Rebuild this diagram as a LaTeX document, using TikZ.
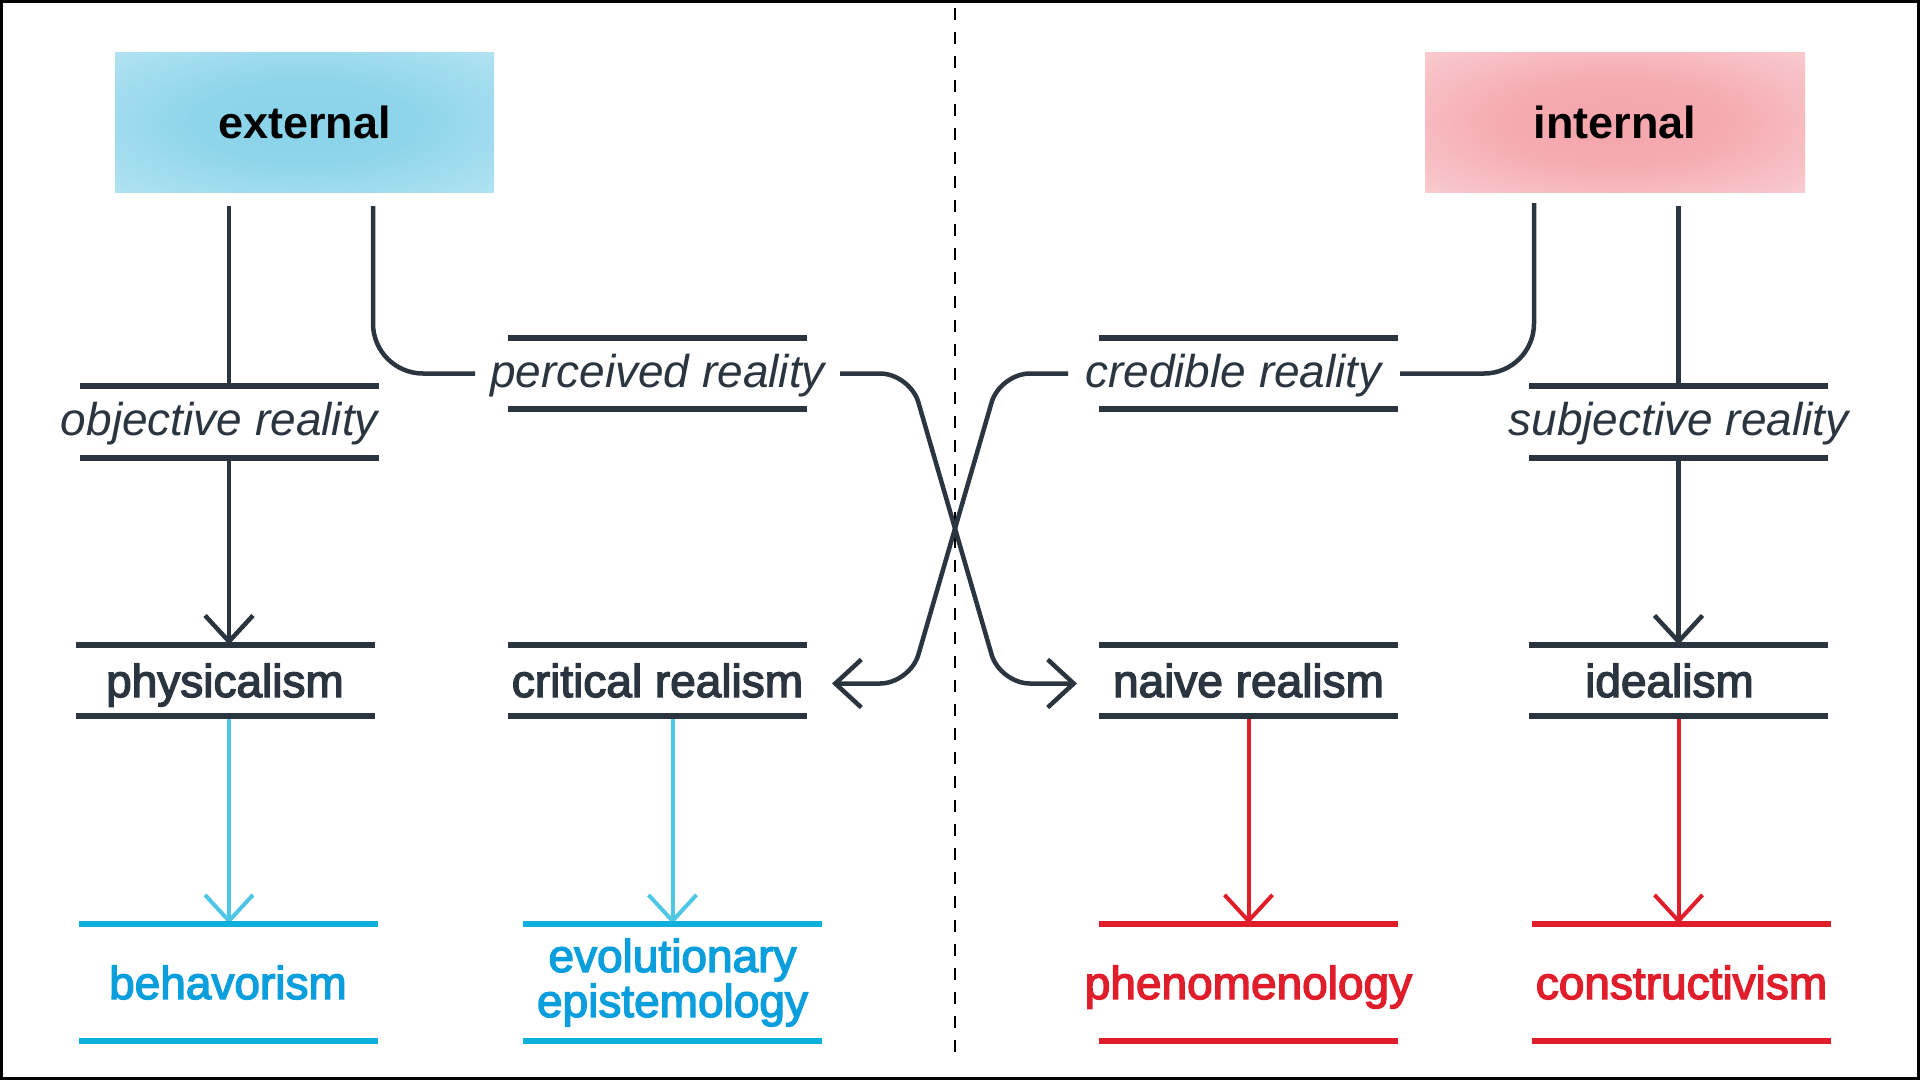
\documentclass[tikz,border=0pt]{standalone}
\usepackage{fontspec}
\setmainfont{Liberation Sans}
\newfontfamily\medfont[FakeBold=3]{Liberation Sans}
\usetikzlibrary{arrows.meta}
\definecolor{ink}{HTML}{2A3540}
\definecolor{bluebar}{HTML}{0DB0DC}
\definecolor{bluetxt}{HTML}{0A9FDC}
\definecolor{blueln}{HTML}{4FC6E4}
\definecolor{redc}{HTML}{E01E2B}
\pgfdeclareradialshading{extshade}{\pgfpoint{0bp}{0bp}}{color(0bp)=(rgb,255:red,137;green,211;blue,233); color(15bp)=(rgb,255:red,143;green,213;blue,234); color(35bp)=(rgb,255:red,176;green,226;blue,241); color(50bp)=(rgb,255:red,211;green,240;blue,248)}
\pgfdeclareradialshading{intshade}{\pgfpoint{0bp}{0bp}}{color(0bp)=(rgb,255:red,244;green,165;blue,172); color(15bp)=(rgb,255:red,245;green,171;blue,177); color(35bp)=(rgb,255:red,248;green,202;blue,206); color(50bp)=(rgb,255:red,251;green,226;blue,228)}
\newcommand\drawbars[2]{\draw[line width=6pt,#2] ([xshift=-149.5pt]#1.north) -- ([xshift=149.5pt]#1.north) ([xshift=-149.5pt]#1.south) -- ([xshift=149.5pt]#1.south);}
\begin{document}
\begin{tikzpicture}[x=1pt,y=-1pt,
  cbase/.style={rectangle, inner sep=0pt, minimum width=299pt, minimum height=71pt, text=ink, font=\medfont\fontsize{46}{45}\selectfont},
  concept/.style={cbase, text height=33pt, text depth=0pt},
  italconcept/.style={cbase, text height=27pt, text depth=0pt, font=\itshape\fontsize{46}{45}\selectfont},
  leaf/.style={concept, minimum height=117pt},
  leaftwo/.style={cbase, minimum height=117pt, align=center},
  header/.style={rectangle, inner sep=0pt, minimum height=140pt, text height=32pt, text depth=0pt, font=\bfseries\fontsize{45}{45}\selectfont, text=black},
  conn/.style={draw=ink, line width=4.5pt},
  blueline/.style={draw=blueln, line width=4pt},
  redline/.style={draw=redc, line width=4pt},
  arrowhd/.style={-{Straight Barb[length=26pt,width=48pt]}}
]
\useasboundingbox (0,0) rectangle (1920,1080);
\draw[line width=3pt] (1.5,1.5) rectangle (1918.5,1078.5);
\draw[line width=2.5pt, dash pattern=on 12pt off 12pt] (955,8) -- (955,1052);

% headers
\node[header, minimum width=379pt, shading=extshade] (ext) at (304.5,122) {external};
\node[header, minimum width=380pt, shading=intshade] (int) at (1615,122) {internal};

% concepts
\node[italconcept] (obj) at (229,422) {objective reality\hspace*{19pt}};
\node[italconcept] (perc) at (657.5,373.5) {perceived reality};
\node[italconcept] (cred) at (1248.5,373.5) {credible reality\hspace*{30pt}};
\node[italconcept] (subj) at (1678.5,422) {subjective reality};
\node[concept] (phys) at (225,680.5) {physicalism};
\node[concept] (crit) at (657.5,680.5) {critical realism};
\node[concept] (naive) at (1248.5,680.5) {naive realism};
\node[concept] (ideal) at (1678.5,680.5) {idealism\hspace*{18pt}};
\node[leaf, text=bluetxt] (behav) at (228,982.5) {behavorism};
\node[leaftwo, text=bluetxt] (evo) at (672.5,982.5) {evolutionary\\epistemology};
\node[leaf, text=redc] (phen) at (1248.5,982.5) {phenomenology};
\node[leaf, text=redc] (cons) at (1681.5,982.5) {constructivism};

% connectors
\draw[conn] ([yshift=-14pt]ext.south -| obj.north) -- (obj.north);
\draw[conn, arrowhd] (obj.south) -- (obj.south |- phys.north);
\draw[blueline, arrowhd] (obj.south |- phys.south) -- (obj.south |- behav.north);
\draw[conn, rounded corners=50pt] ([xshift=68.5pt,yshift=-14pt]ext.south) |- ([xshift=-182.5pt]perc.center);
\draw[conn, rounded corners=30pt, arrowhd] ([xshift=182.5pt]perc.center) -- ([xshift=252.5pt]perc.center) -- ([xshift=-248.5pt,yshift=-3pt]naive.center) -- ([xshift=-171.5pt,yshift=-3pt]naive.center);
\draw[conn, rounded corners=30pt, arrowhd] ([xshift=-180.5pt]cred.center) -- ([xshift=-248.5pt]cred.center) -- ([xshift=252.5pt,yshift=-3pt]crit.center) -- ([xshift=174.5pt,yshift=-3pt]crit.center);
\draw[conn, rounded corners=50pt] ([xshift=-81pt,yshift=-11pt]int.south) |- ([xshift=151.5pt]cred.center);
\draw[conn] ([yshift=-14pt]int.south -| subj.north) -- (subj.north);
\draw[conn, arrowhd] (subj.south) -- (ideal.north);
\draw[blueline, arrowhd] (crit.south -| evo.north) -- (evo.north);
\draw[redline, arrowhd] (naive.south) -- (naive.south |- phen.north);
\draw[redline, arrowhd] (ideal.south) -- (ideal.south |- cons.north);

% bars
\drawbars{obj}{ink}
\drawbars{perc}{ink}
\drawbars{cred}{ink}
\drawbars{subj}{ink}
\drawbars{phys}{ink}
\drawbars{crit}{ink}
\drawbars{naive}{ink}
\drawbars{ideal}{ink}
\drawbars{behav}{bluebar}
\drawbars{evo}{bluebar}
\drawbars{phen}{redc}
\drawbars{cons}{redc}
\end{tikzpicture}
\end{document}
